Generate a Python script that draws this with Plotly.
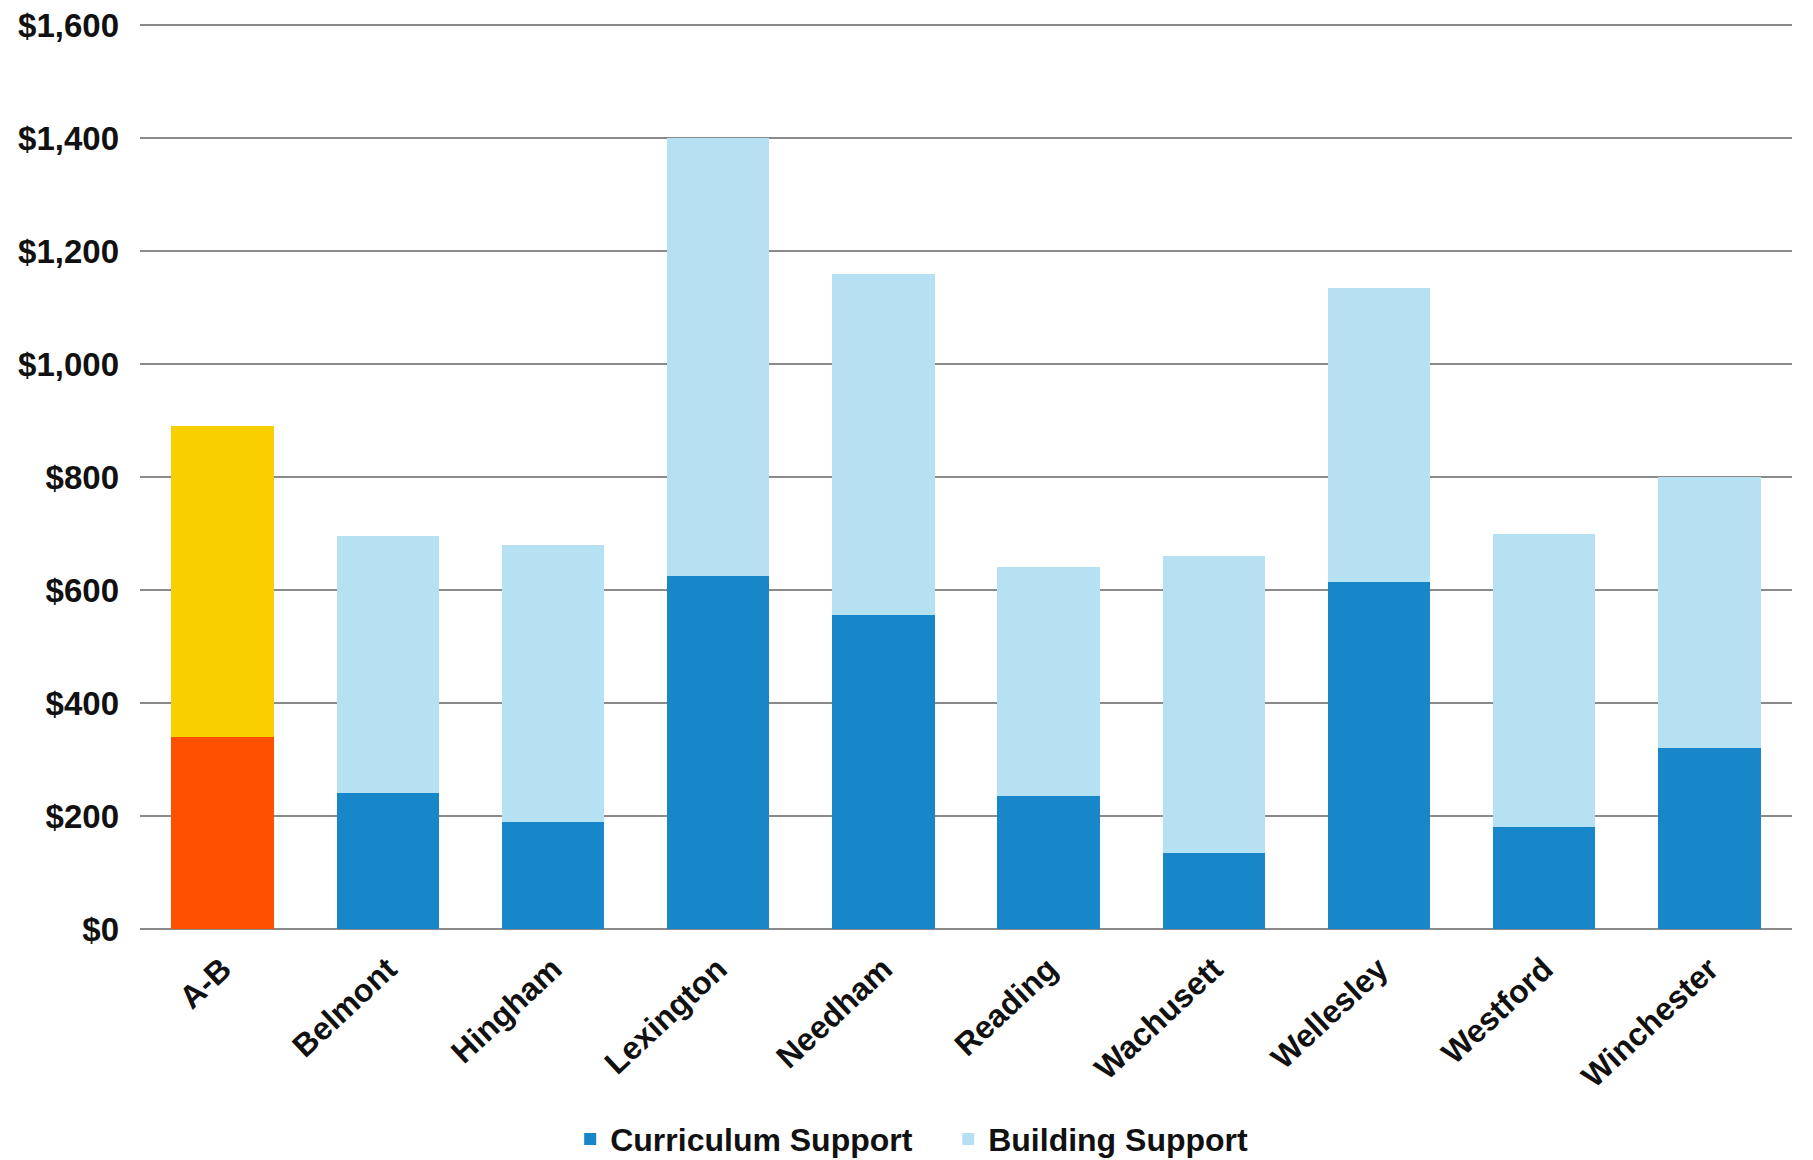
import plotly.graph_objects as go

# School districts and per-pupil support amounts (USD)
districts = ["A-B", "Belmont", "Hingham", "Lexington", "Needham",
             "Reading", "Wachusett", "Wellesley", "Westford", "Winchester"]
curriculum_support = [340, 240, 190, 625, 555, 235, 135, 615, 180, 320]
building_support = [550, 455, 490, 775, 605, 405, 525, 520, 520, 480]

y_ticks = [0, 200, 400, 600, 800, 1000, 1200, 1400, 1600]
y_tick_labels = ["$" + f"{v:,}" for v in y_ticks]

CURR_BLUE = "#1787c9"
BUILD_BLUE = "#b5e1f3"
AB_CURR = "#ff5000"
AB_BUILD = "#f9cf00"

highlight = districts[0]
others = districts[1:]

fig = go.Figure()
# Curriculum segment for the comparison districts
fig.add_trace(go.Bar(
    name="Curriculum Support", x=others, y=curriculum_support[1:],
    marker=dict(color=CURR_BLUE, line=dict(width=0)),
))
# Highlighted district, curriculum segment
fig.add_trace(go.Bar(
    name="Curriculum Support", x=[highlight], y=[curriculum_support[0]],
    marker=dict(color=AB_CURR, line=dict(width=0)), showlegend=False,
))
# Building segment for the comparison districts
fig.add_trace(go.Bar(
    name="Building Support", x=others, y=building_support[1:],
    marker=dict(color=BUILD_BLUE, line=dict(width=0)),
))
# Highlighted district, building segment
fig.add_trace(go.Bar(
    name="Building Support", x=[highlight], y=[building_support[0]],
    marker=dict(color=AB_BUILD, line=dict(width=0)), showlegend=False,
))

font_family = "Liberation Sans, Arial, sans-serif"
y_font = dict(size=33, family=font_family, color="#111111", weight="bold")
x_font = dict(size=32, family=font_family, color="#111111", weight="bold")

fig.update_layout(
    width=1813, height=1160,
    margin=dict(l=140, r=21, t=24, b=231, autoexpand=False),
    barmode="stack",
    bargap=0.38,
    plot_bgcolor="white",
    paper_bgcolor="white",
    font=dict(family=font_family, color="#111111", weight="bold"),
    showlegend=True,
    legend=dict(
        orientation="h",
        xref="container", x=0.523, xanchor="center",
        yref="container", y=0.018, yanchor="middle",
        font=dict(size=32, family=font_family, color="#111111", weight="bold"),
        traceorder="normal",
        itemwidth=30,
        entrywidth=333,
        entrywidthmode="pixels",
    ),
    xaxis=dict(
        categoryorder="array", categoryarray=districts,
        tickangle=-43,
        tickfont=x_font,
        showgrid=False,
        showline=False,
        ticks="",
        ticklabelstandoff=14,
        automargin=False,
    ),
    yaxis=dict(
        range=[0, 1602],
        tickvals=y_ticks,
        ticktext=y_tick_labels,
        tickfont=y_font,
        showgrid=True,
        gridcolor="#8a8a8a",
        gridwidth=2,
        zeroline=True,
        zerolinecolor="#8a8a8a",
        zerolinewidth=2,
        showline=False,
        ticks="",
        ticklabelstandoff=20,
        automargin=False,
    ),
)

fig.write_html("out.html")
